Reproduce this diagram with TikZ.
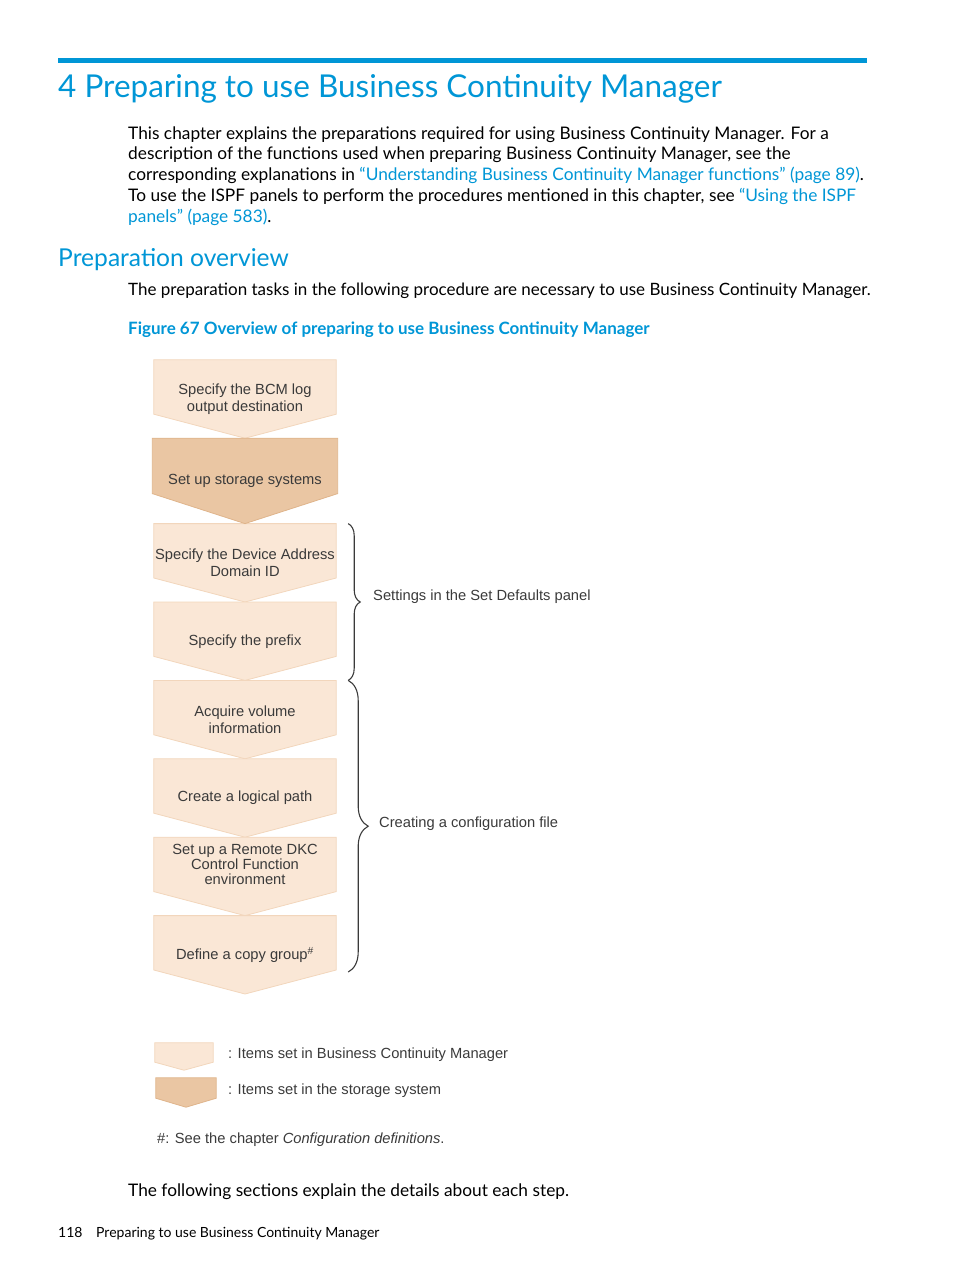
\documentclass[tikz,border=0pt]{standalone}
\usepackage{fontspec}
\setmainfont{Lato}
\newfontfamily\figfont{Liberation Sans}
\usetikzlibrary{positioning,decorations.pathreplacing}
\definecolor{HPblue}{HTML}{0096D6}
\definecolor{stepfill}{HTML}{FAE7D6}
\definecolor{stepline}{HTML}{F2D6BC}
\definecolor{storfill}{HTML}{EAC6A3}
\definecolor{storline}{HTML}{DFB48B}
\definecolor{figtext}{HTML}{3A3A3A}
\pgfdeclarelayer{background}
\pgfsetlayers{background,main}

\begin{document}
\begin{tikzpicture}[
    x=1pt, y=1pt,
    body/.style={anchor=base west, inner sep=0pt, align=left, font=\fontsize{17.3}{20.8}\selectfont},
    lstep/.style={rectangle, minimum width=182pt, minimum height=78pt, inner sep=0pt, align=center, text=figtext, font=\figfont\fontsize{14.7}{17.5}\selectfont},
    sstep/.style={lstep, minimum width=185pt, minimum height=85pt},
    legend/.style={anchor=base west, inner sep=0pt, text=figtext, font=\figfont\fontsize{14.7}{17.5}\selectfont},
    cbrace/.style={draw=figtext, line width=1.1pt, decorate, decoration={brace, amplitude=#1}}
]
\useasboundingbox (0,0) rectangle (954,-1271);

% --- Chapter heading and text ---
\fill[HPblue] (58,-58) rectangle (867,-63);
\node[anchor=base west, inner sep=0pt, text=HPblue, font=\fontsize{31.5}{38}\selectfont] (title) at (58,-98) {4 Preparing to use Business Continuity Manager};
% base of a multi-line node is its last line
\node[body] (intro) at (128,-222.2) {This chapter explains the preparations required for using Business Continuity Manager. For a\\
description of the functions used when preparing Business Continuity Manager, see the\\
corresponding explanations in \textcolor{HPblue}{“Understanding Business Continuity Manager functions” (page 89)}.\\
To use the ISPF panels to perform the procedures mentioned in this chapter, see \textcolor{HPblue}{“Using the ISPF}\\
\textcolor{HPblue}{panels” (page 583)}.};
\node[anchor=base west, inner sep=0pt, text=HPblue, font=\fontsize{24.6}{30}\selectfont] (overview) at (58,-266) {Preparation overview};
\node[body, font=\fontsize{17}{20.8}\selectfont] (tasks) at (128,-295) {The preparation tasks in the following procedure are necessary to use Business Continuity Manager.};
\node[body, text=HPblue, font=\bfseries\fontsize{17}{20}\selectfont] (figcap) at (128,-334) {Figure 67 Overview of preparing to use Business Continuity Manager};

% --- Steps ---
\node[lstep] (log) at (245,-399) {Specify the BCM log\\output destination};
\node[sstep, below=0pt of log] (stor) {Set up storage systems};
\node[lstep, below=0pt of stor] (dai) {Specify the Device Address\\Domain ID};
\node[lstep, below=0pt of dai] (pfx) {Specify the prefix};
\node[lstep, below=0pt of pfx] (vol) {Acquire volume\\information};
\node[lstep, below=0pt of vol] (lpath) {Create a logical path};
\node[lstep, below=0pt of lpath, font=\figfont\fontsize{14.7}{15}\selectfont] (rdkc) {Set up a Remote DKC\\Control Function\\environment\\[10pt]\mbox{}};
\node[lstep, below=0pt of rdkc] (grp) {Define a copy group\textsuperscript{\#}};

% --- Braces ---
\draw[cbrace=12pt] ([xshift=12pt]dai.north east) -- ([xshift=12pt]pfx.south east);
\draw[cbrace=20pt] ([xshift=12pt]vol.north east) -- ([xshift=12pt,yshift=22pt]grp.south east);
\node[legend, anchor=west] (setdef) at (373,-597) {Settings in the Set Defaults panel};
\node[legend, anchor=west] (conf) at (379,-824) {Creating a configuration file};

% --- Legend ---
\node[rectangle, minimum width=58pt, minimum height=27pt, inner sep=0pt] (lgl) at (184,-1056.5) {};
\node[rectangle, minimum width=60pt, minimum height=29pt, inner sep=0pt] (lgd) at (186,-1092.5) {};
\node[legend] (lgltext) at (228,-1058) {: Items set in Business Continuity Manager};
\node[legend] (lgdtext) at (228,-1094) {: Items set in the storage system};
\node[legend] (note) at (157,-1143) {\#: See the chapter \textit{Configuration definitions}.};

\begin{pgfonlayer}{background}
\foreach \s in {log,dai,pfx,vol,lpath,rdkc,grp}
  \filldraw[fill=stepfill, draw=stepline, line width=0.8pt] (\s.north west) -- (\s.north east) -- ([yshift=24pt]\s.south east) -- (\s.south) -- ([yshift=24pt]\s.south west) -- cycle;
\filldraw[fill=storfill, draw=storline, line width=0.8pt] (stor.north west) -- (stor.north east) -- ([yshift=30pt]stor.south east) -- (stor.south) -- ([yshift=30pt]stor.south west) -- cycle;
\filldraw[fill=stepfill, draw=stepline, line width=0.8pt] (lgl.north west) -- (lgl.north east) -- ([yshift=8pt]lgl.south east) -- (lgl.south) -- ([yshift=8pt]lgl.south west) -- cycle;
\filldraw[fill=storfill, draw=storline, line width=0.8pt] (lgd.north west) -- (lgd.north east) -- ([yshift=9pt]lgd.south east) -- (lgd.south) -- ([yshift=9pt]lgd.south west) -- cycle;
\end{pgfonlayer}

% --- Closing text and footer ---
\node[body] (follow) at (128,-1196) {The following sections explain the details about each step.};
\node[body, font=\fontsize{14}{16}\selectfont] (pgnum) at (58,-1237) {118};
\node[body, font=\fontsize{14}{16}\selectfont] (runhead) at (96,-1237) {Preparing to use Business Continuity Manager};
\end{tikzpicture}
\end{document}
